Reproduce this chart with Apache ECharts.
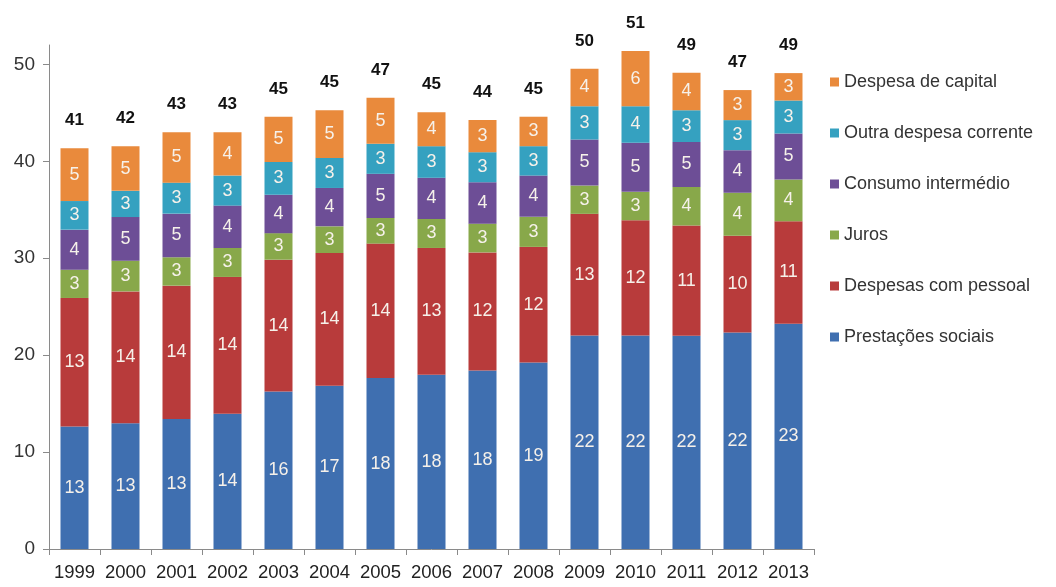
<!DOCTYPE html>
<html>
<head>
<meta charset="utf-8">
<script src="https://cdn.jsdelivr.net/npm/echarts@6/dist/echarts.min.js"></script>
<style>
html,body{margin:0;padding:0;background:#fff;}
#chart{width:1056px;height:587px;}
</style>
</head>
<body>
<div id="chart"></div>
<script>
const years = ['1999','2000','2001','2002','2003','2004','2005','2006','2007','2008','2009','2010','2011','2012','2013'];
const yTicks = [0, 10, 20, 30, 40, 50];
const seriesNames = ['Prestações sociais','Despesas com pessoal','Juros','Consumo intermédio','Outra despesa corrente','Despesa de capital'];
const prestacoes = [12.63, 12.98, 13.4, 13.95, 16.25, 16.84, 17.63, 17.98, 18.42, 19.25, 22.04, 22.04, 22.0, 22.35, 23.24];
const pessoal    = [13.27, 13.6, 13.77, 14.12, 13.6, 13.7, 13.88, 13.08, 12.18, 11.92, 12.54, 11.88, 11.37, 9.98, 10.57];
const juros      = [2.92, 3.17, 2.93, 2.99, 2.74, 2.75, 2.65, 3.0, 2.97, 3.1, 2.92, 2.93, 3.99, 4.42, 4.31];
const consumo    = [4.13, 4.5, 4.5, 4.37, 3.97, 3.96, 4.55, 4.24, 4.27, 4.26, 4.75, 5.06, 4.62, 4.4, 4.75];
const outra      = [2.95, 2.7, 3.2, 3.1, 3.38, 3.1, 3.1, 3.26, 3.1, 3.03, 3.44, 3.78, 3.3, 3.1, 3.4];
const capital    = [5.45, 4.6, 5.2, 4.47, 4.65, 4.92, 4.75, 3.51, 3.31, 3.04, 3.86, 5.69, 3.86, 3.1, 2.83];

const colors = ['#3F6FB0', '#B83B3B', '#88A84A', '#6D4E96', '#35A1C0', '#E98A3C'];
const allData = [prestacoes, pessoal, juros, consumo, outra, capital];
const totals = years.map((_, i) => allData.reduce((s, arr) => s + arr[i], 0));

const chart = echarts.init(document.getElementById('chart'), null, {renderer: 'canvas'});
const FONT = '"Liberation Sans", Arial, sans-serif';

const series = allData.map((arr, k) => ({
  name: seriesNames[k],
  type: 'bar',
  stack: 'total',
  barWidth: 28,
  data: arr,
  itemStyle: {color: colors[k]},
  label: {
    show: true,
    position: 'inside',
    color: '#f6f1ea',
    fontFamily: FONT,
    fontSize: 18,
    formatter: p => Math.round(p.value)
  }
}));
series.push({
  name: 'Total',
  type: 'bar',
  stack: 'total',
  barWidth: 28,
  data: years.map(() => 0),
  itemStyle: {color: 'transparent'},
  label: {
    show: true,
    position: 'top',
    distance: 19,
    color: '#111',
    fontFamily: FONT,
    fontWeight: 'bold',
    fontSize: 17,
    formatter: p => Math.round(totals[p.dataIndex])
  }
});

chart.setOption({
  animation: false,
  backgroundColor: '#fff',
  grid: {left: 49, right: 242, top: 45, bottom: 38, containLabel: false},
  legend: {
    orient: 'vertical',
    left: 825,
    top: 67,
    icon: 'rect',
    itemWidth: 9,
    itemHeight: 9,
    itemGap: 31,
    data: seriesNames.slice().reverse(),
    textStyle: {fontFamily: FONT, fontSize: 18, color: '#333', lineHeight: 20}
  },
  xAxis: {
    type: 'category',
    data: years,
    axisLine: {lineStyle: {color: '#8a8a8a', width: 1}},
    axisTick: {show: true, alignWithLabel: false, interval: 0, length: 6, lineStyle: {color: '#8a8a8a'}},
    axisLabel: {interval: 0, fontFamily: FONT, fontSize: 18.5, color: '#222', margin: 14}
  },
  yAxis: {
    type: 'value',
    min: 0,
    max: 52,
    interval: 10,
    splitLine: {show: false},
    axisLine: {show: true, lineStyle: {color: '#8a8a8a', width: 1}},
    axisTick: {show: true, length: 6, lineStyle: {color: '#8a8a8a'}, customValues: yTicks},
    axisLabel: {fontFamily: FONT, fontSize: 19, color: '#333', margin: 14, customValues: yTicks}
  },
  series: series
});
</script>
</body>
</html>
